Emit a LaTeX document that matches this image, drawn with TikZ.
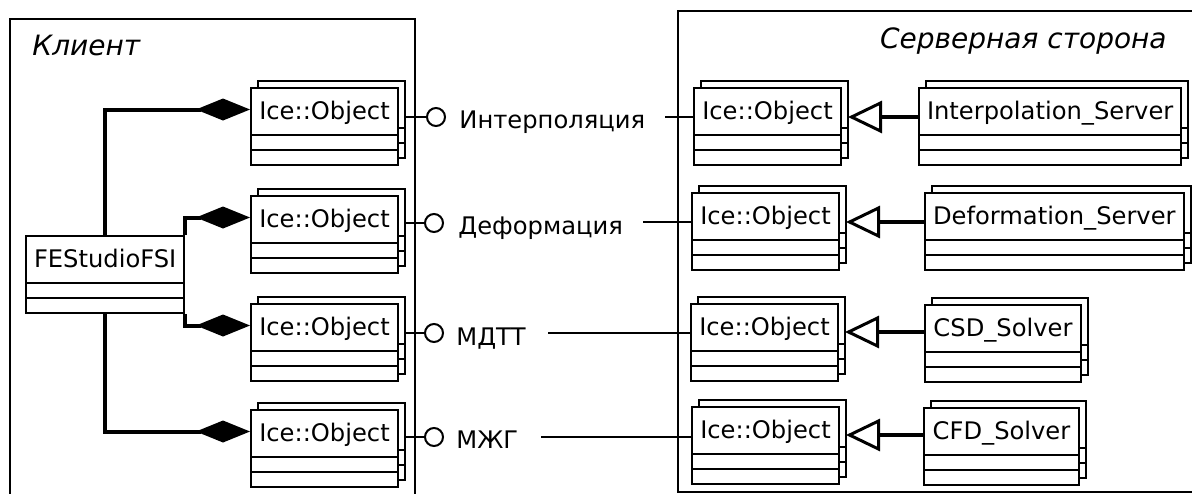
\documentclass[tikz,border=0pt]{standalone}
\usepackage{fontspec}
\setmainfont{DejaVu Sans}
\usetikzlibrary{arrows.meta,shapes.multipart,shadows,positioning}

\newcommand\boxfont{\fontsize{12.1}{14}\selectfont}
\newcommand\titlefont{\fontsize{14}{17}\selectfont\itshape}
% name compartment of a class box
\newcommand\clsname[1]{\rule[-7.5pt]{0pt}{22.5pt}#1}

\begin{document}
\begin{tikzpicture}[x=0.5pt,y=-0.5pt,
        umlclass/.style={rectangle split, rectangle split parts=3, draw, fill=white,
        line width=1pt, inner xsep=4pt, inner ysep=0pt, anchor=north west,
        rectangle split empty part height=6.5pt, rectangle split empty part depth=0pt,
        font=\boxfont},
        stacked/.style={umlclass, copy shadow={draw=black, fill=white, line width=1pt,
        shadow xshift=3.5pt, shadow yshift=3.5pt}},
        frame/.style={draw, line width=0.75pt},
        lolli/.style={circle, draw, line width=1pt, fill=white, minimum size=9pt, inner sep=0pt},
        lbl/.style={anchor=base west, inner sep=0pt, font=\boxfont},
        iface/.style={line width=0.8pt},
        comp/.style={line width=2pt, -{Diamond[length=27pt,width=11pt]}},
        gen/.style={line width=2pt, shorten >=3pt,
        -{Triangle[open, length=17pt, width=16pt, line width=1.5pt]}}
        ]

    \useasboundingbox (0,0) rectangle (1192,493);
    \clip (0,0) rectangle (1192,493);

    % client and server frames
    \draw[frame] (10,19) rectangle (415,530);
    \draw[frame] (678,11) rectangle (1230,492);
    \node[anchor=base west, inner sep=0pt, font=\titlefont] (client) at (32,55) {Клиент};
    \node[anchor=base east, inner sep=0pt, font=\titlefont] (server) at (1167,48) {Серверная сторона};

    % client side
    \node[umlclass, minimum width=79pt] (fe) at (25,235) {\clsname{FEStudioFSI}};
    \node[stacked, minimum width=73.5pt] (ci1) at (250,87) {\clsname{Ice::Object}};
    \node[stacked, minimum width=73.5pt] (ci2) at (250,195) {\clsname{Ice::Object}};
    \node[stacked, minimum width=73.5pt] (ci3) at (250,303) {\clsname{Ice::Object}};
    \node[stacked, minimum width=73.5pt] (ci4) at (250,409) {\clsname{Ice::Object}};

    \draw[comp] (fe.north) |- ([yshift=-11.25pt]ci1.north west);
    \draw[comp] (fe.north east) |- ([yshift=-11.25pt]ci2.north west);
    \draw[comp] (fe.south east) |- ([yshift=-11.25pt]ci3.north west);
    \draw[comp] (fe.south) |- ([yshift=-11.25pt]ci4.north west);

    % provided interfaces
    \node[lolli] (l1) at (436,117) {};
    \node[lolli] (l2) at (434,223) {};
    \node[lolli] (l3) at (434,333) {};
    \node[lolli] (l4) at (434,437) {};
    \draw[iface] ([xshift=3.5pt,yshift=-15pt]ci1.north east) -- (l1);
    \draw[iface] ([xshift=3.5pt,yshift=-14pt]ci2.north east) -- (l2);
    \draw[iface] ([xshift=3.5pt,yshift=-15pt]ci3.north east) -- (l3);
    \draw[iface] ([xshift=3.5pt,yshift=-14pt]ci4.north east) -- (l4);
    \node[lbl] (t1) at (459,128) {Интерполяция};
    \node[lbl] (t2) at (458,234) {Деформация};
    \node[lbl] (t3) at (456,345) {МДТТ};
    \node[lbl] (t4) at (456,448) {МЖГ};

    % server side
    \node[stacked, minimum width=73.5pt] (si1) at (693,87) {\clsname{Ice::Object}};
    \node[stacked, minimum width=73.5pt] (si2) at (691,192) {\clsname{Ice::Object}};
    \node[stacked, minimum width=73.5pt] (si3) at (690,303) {\clsname{Ice::Object}};
    \node[stacked, minimum width=73.5pt] (si4) at (691,406) {\clsname{Ice::Object}};
    \node[stacked, minimum width=130.5pt] (srv1) at (918,87) {\clsname{Interpolation\_Server}};
    \node[stacked, minimum width=129pt] (srv2) at (924,192) {\clsname{Deformation\_Server}};
    \node[stacked, minimum width=78pt] (srv3) at (924,304) {\clsname{CSD\_Solver}};
    \node[stacked, minimum width=77.5pt] (srv4) at (923,407) {\clsname{CFD\_Solver}};

    \coordinate (d1) at (665,117);
    \coordinate (d2) at (643,222);
    \coordinate (d3) at (548,333);
    \coordinate (d4) at (541,437);
    \draw[iface] (d1) -- (d1 -| si1.west);
    \draw[iface] (d2) -- (d2 -| si2.west);
    \draw[iface] (d3) -- (d3 -| si3.west);
    \draw[iface] (d4) -- (d4 -| si4.west);

    \draw[gen] ([yshift=-15pt]srv1.north west) -- ([yshift=-15pt]srv1.north west -| si1.east);
    \draw[gen] ([yshift=-15pt]srv2.north west) -- ([yshift=-15pt]srv2.north west -| si2.east);
    \draw[gen] ([yshift=-14pt]srv3.north west) -- ([yshift=-14pt]srv3.north west -| si3.east);
    \draw[gen] ([yshift=-14pt]srv4.north west) -- ([yshift=-14pt]srv4.north west -| si4.east);

\end{tikzpicture}
\end{document}
